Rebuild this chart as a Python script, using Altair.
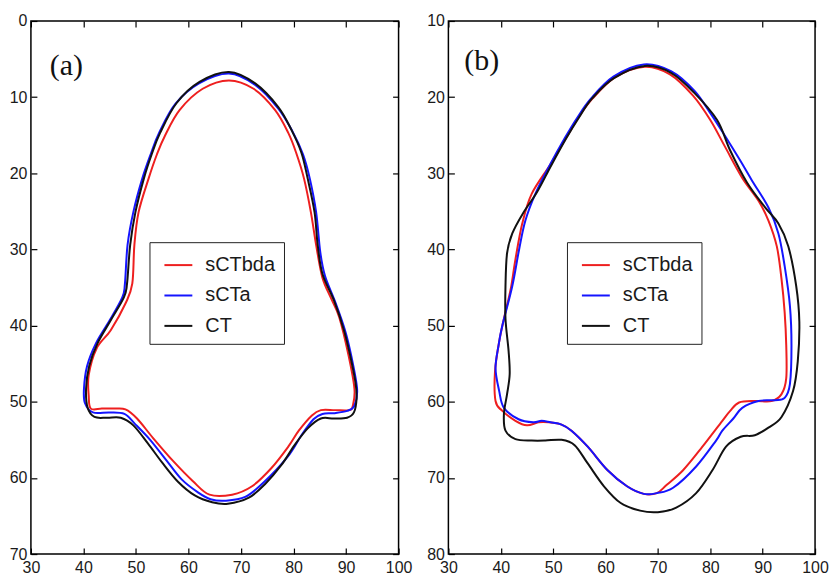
import altair as alt
import pandas as pd

SERIES = ["sCTbda", "sCTa", "CT"]
COLORS = ["#ee1f1f", "#1414ff", "#111111"]
X_TICKS = [30, 40, 50, 60, 70, 80, 90, 100]
A_Y_TICKS = [0, 10, 20, 30, 40, 50, 60, 70]
B_Y_TICKS = [10, 20, 30, 40, 50, 60, 70, 80]

# ---------------- panel (a) ----------------
a_sctbda_x = [67.7, 72.4, 76.5, 79.0, 80.5, 82.0, 83.3, 84.3, 85.5, 87.2, 88.7, 90.5, 91.6, 91.3,
              90.6, 87.9, 85.2, 83.5, 81.0, 79.0, 75.8, 72.1, 68.3, 64.0, 60.8, 57.1, 53.3, 50.2,
              48.0, 45.8, 43.5, 41.4, 41.0, 41.0, 42.5, 45.2, 48.0, 49.3, 49.7, 50.5, 52.4, 54.0,
              55.5, 58.3, 62.7]
a_sctbda_y = [7.8, 8.9, 11.7, 14.7, 17.3, 20.7, 25.1, 29.4, 33.7, 36.5, 38.9, 44.0, 48.3, 50.5,
              51.1, 51.1, 51.1, 51.8, 53.8, 55.9, 58.7, 61.1, 62.2, 62.2, 60.4, 57.8, 54.8, 52.2,
              51.0, 50.9, 50.9, 50.9, 49.2, 46.5, 43.0, 40.6, 37.1, 34.5, 29.4, 25.1, 20.7, 17.5,
              15.1, 11.7, 8.9]

a_scta_x = [67.7, 72.7, 77.1, 79.8, 81.8, 83.1, 84.3, 85.1, 86.0, 88.0, 89.8, 91.0, 92.1, 91.6,
            90.2, 87.7, 85.5, 83.8, 81.5, 78.9, 74.3, 70.8, 67.0, 64.2, 61.8, 58.7, 55.8, 52.7,
            49.8, 47.8, 45.0, 41.8, 40.3, 40.1, 40.7, 42.4, 45.0, 47.4, 47.9, 48.4, 49.5, 51.2,
            52.8, 54.4, 57.5, 62.0]
a_scta_y = [6.9, 8.4, 11.5, 14.5, 17.5, 20.7, 25.1, 30.4, 33.5, 37.0, 40.6, 44.0, 48.3, 50.5,
            51.2, 51.5, 51.6, 52.3, 54.4, 57.2, 60.6, 62.5, 63.0, 62.8, 61.9, 60.2, 57.7, 55.0,
            52.9, 51.6, 51.4, 51.4, 50.2, 48.3, 45.3, 42.3, 39.3, 36.3, 34.5, 29.4, 25.1, 20.7,
            17.5, 14.7, 10.9, 8.2]

a_ct_x = [67.7, 72.7, 77.1, 79.6, 81.5, 82.7, 84.0, 84.6, 85.5, 87.7, 89.6, 90.8, 91.8, 92.0,
          91.5, 90.2, 87.7, 85.2, 82.7, 80.2, 77.7, 74.6, 71.5, 67.5, 64.5, 61.2, 58.0, 55.0,
          52.3, 49.5, 47.1, 44.5, 42.1, 40.8, 40.5, 41.1, 42.7, 45.2, 47.7, 48.3, 48.9, 49.9,
          51.5, 53.0, 54.6, 57.7, 62.1]
a_ct_y = [6.7, 8.2, 11.3, 14.3, 17.3, 20.7, 25.1, 29.4, 33.2, 36.7, 40.6, 44.0, 47.5, 49.6,
          51.4, 52.1, 52.2, 52.2, 53.5, 55.7, 58.3, 60.8, 62.6, 63.4, 63.2, 62.3, 60.5, 58.0,
          55.5, 53.1, 52.1, 52.1, 52.0, 50.8, 48.3, 45.3, 42.3, 39.3, 36.3, 34.5, 29.4, 25.1,
          20.7, 17.5, 14.7, 10.8, 8.0]

# ---------------- panel (b) ----------------
b_sctbda_x = [67.5, 72.3, 76.7, 80.0, 82.8, 86.1, 89.2, 91.1, 92.7, 93.6, 94.2, 94.5, 94.5, 93.6,
              91.7, 88.6, 85.5, 83.8, 82.3, 78.5, 74.8, 71.7, 69.8, 67.3, 64.1, 60.4, 56.6, 53.5,
              51.6, 49.1, 47.2, 45.0, 42.8, 40.3, 39.0, 38.9, 39.7, 40.6, 41.9, 42.8, 44.1, 45.9,
              49.5, 52.6, 54.9, 57.5, 61.8]
b_sctbda_y = [16.0, 17.0, 19.8, 23.0, 26.5, 30.6, 33.6, 36.2, 39.6, 43.9, 48.3, 52.6, 56.9, 59.0,
              59.9, 59.9, 60.1, 61.2, 62.5, 65.9, 69.0, 70.9, 72.0, 72.1, 71.1, 69.0, 65.9, 63.8,
              63.0, 62.7, 62.7, 63.1, 62.5, 61.2, 59.9, 56.0, 52.1, 49.1, 45.2, 41.3, 36.6, 32.7,
              28.8, 25.2, 22.6, 20.2, 17.4]

b_scta_x = [67.3, 72.5, 77.0, 80.2, 83.0, 85.6, 88.0, 91.1, 93.0, 94.2, 95.2, 95.5, 95.2, 94.2,
            92.3, 89.2, 86.1, 84.4, 82.3, 81.1, 77.3, 72.9, 69.8, 67.3, 64.1, 60.4, 56.6, 53.5,
            51.6, 49.5, 47.8, 46.2, 43.4, 40.6, 39.7, 39.0, 39.6, 40.3, 42.2, 43.5, 44.7, 46.6,
            49.3, 52.2, 54.6, 57.2, 61.5]
b_scta_y = [15.7, 16.6, 19.2, 22.3, 25.3, 28.2, 31.0, 34.5, 37.9, 42.2, 47.4, 52.6, 57.7, 59.5,
            59.8, 59.9, 60.8, 62.2, 63.8, 65.1, 68.5, 71.3, 72.0, 72.1, 71.1, 69.0, 65.9, 63.8,
            63.0, 62.7, 62.5, 62.7, 62.3, 60.8, 58.6, 55.6, 52.5, 50.0, 44.8, 40.0, 36.2, 32.7,
            29.0, 25.4, 22.7, 20.2, 17.3]

b_ct_x = [67.5, 72.5, 76.9, 81.3, 83.8, 87.0, 90.5, 93.0, 94.9, 96.4, 97.0, 96.7, 95.8, 93.6,
          91.1, 88.5, 85.8, 83.0, 80.4, 77.3, 73.5, 70.0, 66.6, 62.9, 59.7, 56.6, 54.1, 51.6,
          48.5, 45.9, 42.8, 40.9, 40.6, 41.2, 41.7, 41.5, 40.9, 40.9, 41.2, 42.2, 44.2, 46.9,
          49.6, 52.5, 54.9, 57.4, 61.6]
b_ct_y = [15.9, 16.8, 19.4, 23.0, 27.0, 31.2, 34.5, 36.6, 39.6, 44.8, 49.5, 54.7, 58.6, 62.0,
          63.4, 64.4, 64.6, 65.9, 69.0, 72.0, 73.9, 74.5, 74.3, 73.3, 71.1, 68.1, 65.7, 65.0,
          65.1, 65.1, 64.9, 63.8, 61.6, 59.0, 56.4, 53.4, 49.1, 44.8, 40.5, 37.9, 35.3, 32.5,
          29.0, 25.4, 22.7, 20.2, 17.5]


def contour(xs, ys, name):
    return pd.DataFrame({"x": xs, "y": ys, "series": name, "i": list(range(len(xs)))})


def panel(frames, ydomain, yticks, tag, tag_x, tag_y, w, h):
    df = pd.concat(frames, ignore_index=True)
    xscale = alt.Scale(domain=[30, 100], nice=False, zero=False)
    yscale = alt.Scale(domain=ydomain, reverse=True, nice=False, zero=False)
    common = dict(tickSize=6, offset=-6, domain=False, grid=False, title=None,
                  labelFlush=False, labelOverlap=False)
    lines = alt.Chart(df).mark_line(strokeWidth=2, interpolate="cardinal-closed").encode(
        x=alt.X("x:Q", scale=xscale,
                axis=alt.Axis(orient="bottom", values=X_TICKS, labelPadding=6, **common)),
        y=alt.Y("y:Q", scale=yscale,
                axis=alt.Axis(orient="left", values=yticks, labelPadding=4, **common)),
        color=alt.Color("series:N", scale=alt.Scale(domain=SERIES, range=COLORS),
                        legend=alt.Legend(orient="none", legendX=119, legendY=222, title=None,
                                          symbolType="stroke", symbolSize=784,
                                          symbolStrokeWidth=2, labelFont="Liberation Sans",
                                          labelFontSize=20, labelColor="#1a1a1a",
                                          labelExpr="datum.label == 'sCTbda' ? datum.label : '\u00a0\u00a0' + datum.label",
                                          strokeColor="#222222", fillColor="white",
                                          padding=8, symbolOffset=6, labelOffset=12,
                                          rowPadding=5.5, cornerRadius=0)),
        order=alt.Order("i:Q"),
    )
    frame_ticks = alt.Chart(df).mark_point(opacity=0).encode(
        x=alt.X("x:Q", scale=xscale,
                axis=alt.Axis(orient="top", values=X_TICKS, labels=False, **common)),
        y=alt.Y("y:Q", scale=yscale,
                axis=alt.Axis(orient="right", values=yticks, labels=False, **common)),
    )
    label = alt.Chart(pd.DataFrame({"tag": [tag]})).mark_text(
        font="Liberation Serif", fontSize=30, align="left", baseline="middle", color="#111111"
    ).encode(text="tag:N", x=alt.value(tag_x), y=alt.value(tag_y))
    return alt.layer(lines, frame_ticks, label).resolve_axis(
        x="independent", y="independent").properties(width=w, height=h)


pa = panel([contour(a_sctbda_x, a_sctbda_y, "sCTbda"),
            contour(a_scta_x, a_scta_y, "sCTa"),
            contour(a_ct_x, a_ct_y, "CT")],
           [0, 70], A_Y_TICKS, "(a)", 19, 45, 369, 535)
pb = panel([contour(b_sctbda_x, b_sctbda_y, "sCTbda"),
            contour(b_scta_x, b_scta_y, "sCTa"),
            contour(b_ct_x, b_ct_y, "CT")],
           [10, 80], B_Y_TICKS, "(b)", 16, 40, 368, 535)

chart = alt.hconcat(pa, pb, spacing=12, padding={"left": 0, "top": 3, "right": 0, "bottom": 0}
                    ).resolve_scale(color="independent").resolve_legend(color="independent"
                    ).configure_view(stroke="black", strokeWidth=1.5
                    ).configure_axis(labelFont="Liberation Sans", labelFontSize=16,
                                     labelColor="#1a1a1a", tickColor="black", tickWidth=1.2)

chart.save("out.html", embed_options={"renderer": "svg", "actions": False})
